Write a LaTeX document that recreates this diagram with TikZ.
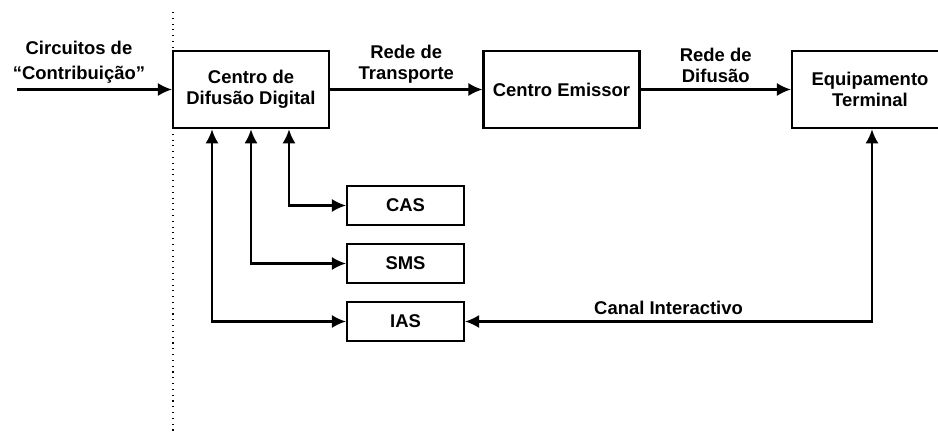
\documentclass[tikz,border=0pt]{standalone}
\usepackage{fontspec}
\setmainfont{Liberation Sans}
\usetikzlibrary{arrows.meta}
\tikzset{
    blk/.style={shape=rectangle, draw=black, line width=1.2pt, minimum width=3.12cm, minimum height=1.55cm, align=center, font=\bfseries\fontsize{10.5}{12}\selectfont},
    smallblk/.style={blk, minimum width=2.34cm, minimum height=0.78cm},
    lbl/.style={align=center, inner sep=3pt, font=\bfseries\fontsize{10.5}{12}\selectfont}}

\begin{document}
\begin{tikzpicture}[x=0.02cm, y=-0.02cm, line width=1.2pt, >={Latex[length=0.28cm, width=0.26cm]}]

    \useasboundingbox (0,0) rectangle (938,433);
    \draw[line width=0.6pt, dash pattern=on 0.6pt off 2.7pt] (173,12) -- (173,433);

    \node[blk] (CDD) at (251,89.5) {Centro de\\Difusão Digital};
    \node[blk] (CE) at (561.5,89.5) {Centro Emissor};
    \node[blk] (ET) at (870,89.5) {Equipamento\\Terminal};
    \node[smallblk] (CAS) at (405.5,205.5) {CAS};
    \node[smallblk] (SMS) at (405.5,263.5) {SMS};
    \node[smallblk] (IAS) at (405.5,321.5) {IAS};
    \coordinate (in) at (17,89.5);

    \draw[->] (in) -- (CDD.west) node[lbl, pos=0.4, above, font=\bfseries\fontsize{10.5}{14}\selectfont] (cc) {Circuitos de\\“Contribuição”};
    \draw[->] (CDD.east) -- (CE.west) node[lbl, midway, above] (rt) {Rede de\\Transporte};
    \draw[->] (CE.east) -- (ET.west) node[lbl, midway, above] (rd) {Rede de\\Difusão};

    \draw[<->] ([xshift=0.76cm]CDD.south) |- (CAS);
    \draw[<->] (CDD.south) |- (SMS);
    \draw[<->] ([xshift=-0.78cm]CDD.south) |- (IAS);
    \draw[<->] ([xshift=0.04cm]ET.south) |- (IAS) node[lbl, pos=0.75, above] (ci) {Canal Interactivo};

\end{tikzpicture}
\end{document}
